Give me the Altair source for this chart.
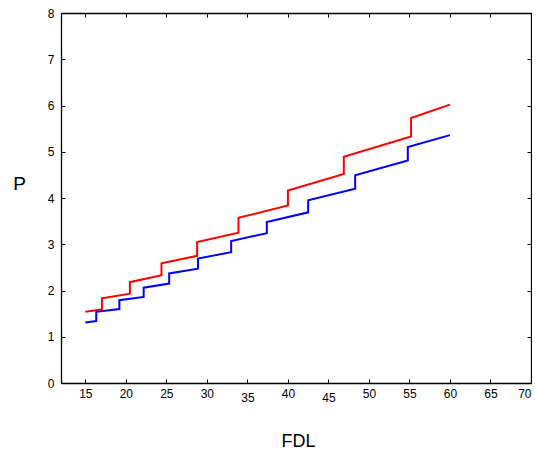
import altair as alt
import pandas as pd

# Red series (step curve, vertical jumps share x)
red_x = [15, 17.05, 17.05, 20.5, 20.5, 24.4, 24.4, 28.8, 28.8, 33.9, 33.9,
         40.0, 40.0, 46.9, 46.9, 55.2, 55.2, 60]
red_y = [1.54, 1.59, 1.83, 1.93, 2.18, 2.33, 2.59, 2.75, 3.05, 3.25, 3.57,
         3.84, 4.16, 4.52, 4.89, 5.33, 5.73, 6.02]

# Blue series
blue_x = [15, 16.35, 16.35, 19.2, 19.2, 22.2, 22.2, 25.35, 25.35, 28.9, 28.9,
          33.0, 33.0, 37.4, 37.4, 42.5, 42.5, 48.3, 48.3, 54.8, 54.8, 60]
blue_y = [1.31, 1.34, 1.54, 1.60, 1.79, 1.86, 2.06, 2.15, 2.37, 2.47, 2.69,
          2.83, 3.07, 3.24, 3.48, 3.69, 3.95, 4.20, 4.49, 4.81, 5.10, 5.36]

x_ticks = [15, 20, 25, 30, 35, 40, 45, 50, 55, 60, 65, 70]
y_ticks = [0, 1, 2, 3, 4, 5, 6, 7, 8]

rows = []
for name, xs, ys in [("red", red_x, red_y), ("blue", blue_x, blue_y)]:
    for i, (xv, yv) in enumerate(zip(xs, ys)):
        rows.append({"series": name, "x": xv, "y": yv, "i": i})
df = pd.DataFrame(rows)

W, H = 470, 370
FONT = "Liberation Sans"

xscale = alt.Scale(domain=[12, 70], nice=False, zero=False)
yscale = alt.Scale(domain=[0, 8], nice=False)

base = alt.Chart(df)

lines = base.mark_line(strokeWidth=2).encode(
    x=alt.X("x:Q", scale=xscale, axis=alt.Axis(
        orient="bottom", values=x_ticks, ticks=False, domain=True,
        domainColor="black", domainWidth=1.3, grid=False,
        labelPadding={"condition": {"test": "datum.value == 35 || datum.value == 45", "value": 9}, "value": 5},
        labelAlign={"condition": {"test": "datum.value == 70", "value": "right"}, "value": "center"},
        labelFontSize=12, labelFont=FONT, labelColor="black",
        title="FDL", titleFontSize=18, titleFont=FONT, titleFontWeight="normal",
        titleColor="black", titleX=237, titleY=58, titleAlign="center",
        titleBaseline="middle", labelFlush=False)),
    y=alt.Y("y:Q", scale=yscale, axis=alt.Axis(
        orient="left", values=y_ticks, ticks=False, domain=True,
        domainColor="black", domainWidth=1.3, grid=False,
        labelPadding=7, labelFontSize=12, labelFont=FONT, labelColor="black",
        title="P", titleAngle=0, titleFontSize=19, titleFont=FONT,
        titleFontWeight="normal", titleColor="black", titleX=-42, titleY=170,
        titleAlign="center", titleBaseline="middle", labelFlush=False)),
    color=alt.Color("series:N", scale=alt.Scale(domain=["red", "blue"],
                                                range=["#ff0000", "#0000ff"]),
                    legend=None),
    order=alt.Order("i:Q"),
)

tick_axis = dict(labels=False, ticks=True, tickSize=4, grid=False,
                 title=None, tickColor="black", tickWidth=1)

# inward ticks on bottom (top-orient axis moved down) and left (right-orient moved left)
ticks_in_a = base.mark_point(opacity=0).encode(
    x=alt.X("x:Q", scale=xscale, axis=alt.Axis(orient="top", offset=-H, values=x_ticks,
                                               domain=False, **tick_axis)),
    y=alt.Y("y:Q", scale=yscale, axis=alt.Axis(orient="right", offset=-W, values=y_ticks,
                                               domain=False, **tick_axis)),
)

# inward ticks + frame lines on top and right edges
ticks_in_b = base.mark_point(opacity=0).encode(
    x=alt.X("x:Q", scale=xscale, axis=alt.Axis(orient="bottom", offset=-H, values=x_ticks,
                                               domain=True, domainColor="black",
                                               domainWidth=1.3, **tick_axis)),
    y=alt.Y("y:Q", scale=yscale, axis=alt.Axis(orient="left", offset=-W, values=y_ticks,
                                               domain=True, domainColor="black",
                                               domainWidth=1.3, **tick_axis)),
)

chart = alt.layer(lines, ticks_in_a, ticks_in_b).resolve_axis(
    x="independent", y="independent"
).properties(
    width=W, height=H,
    autosize=alt.AutoSizeParams(type="none"),
    padding={"left": 53, "top": 5, "right": 1, "bottom": 68},
).configure_view(strokeWidth=0).configure(background="white")

chart.save("out.html", embed_options={"renderer": "svg", "actions": False})
